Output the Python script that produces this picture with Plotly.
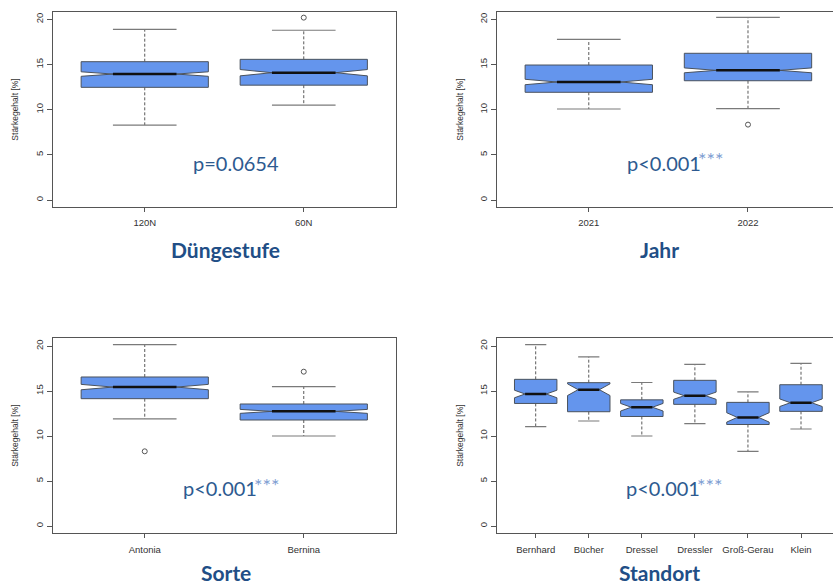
import plotly.graph_objects as go

W, H = 833, 585

# ---------------- data ----------------
duenge_cats = ["120N", "60N"]
duenge_lw = [8.3, 10.5]
duenge_q1 = [12.48, 12.72]
duenge_med = [13.95, 14.10]
duenge_q3 = [15.32, 15.58]
duenge_uw = [18.9, 18.8]
duenge_notch = [0.25, 0.35]
duenge_out_cat = ["60N"]
duenge_out_val = [20.2]
duenge_p = "p=0.0654"
duenge_stars = ""

jahr_cats = ["2021", "2022"]
jahr_lw = [10.08, 10.11]
jahr_q1 = [11.93, 13.21]
jahr_med = [13.07, 14.36]
jahr_q3 = [14.95, 16.25]
jahr_uw = [17.8, 20.22]
jahr_notch = [0.3, 0.27]
jahr_out_cat = ["2022"]
jahr_out_val = [8.35]
jahr_p = "p&lt;0.001"
jahr_stars = "***"

sorte_cats = ["Antonia", "Bernina"]
sorte_lw = [11.9, 10.0]
sorte_q1 = [14.15, 11.78]
sorte_med = [15.44, 12.74]
sorte_q3 = [16.56, 13.56]
sorte_uw = [20.15, 15.48]
sorte_notch = [0.3, 0.22]
sorte_out_cat = ["Antonia", "Bernina"]
sorte_out_val = [8.3, 17.15]
sorte_p = "p&lt;0.001"
sorte_stars = "***"

stand_cats = ["Bernhard", "Bücher", "Dressel", "Dressler", "Groß-Gerau", "Klein"]
stand_lw = [11.04, 11.67, 10.0, 11.37, 8.3, 10.78]
stand_q1 = [13.62, 12.70, 12.17, 13.52, 11.28, 12.74]
stand_med = [14.67, 15.15, 13.20, 14.48, 12.07, 13.70]
stand_q3 = [16.30, 15.93, 14.02, 16.19, 13.74, 15.70]
stand_uw = [20.15, 18.8, 15.95, 17.96, 14.9, 18.07]
stand_notch = [0.42, 0.65, 0.42, 0.4, 0.52, 0.42]
stand_out_cat = []
stand_out_val = []
stand_p = "p&lt;0.001"
stand_stars = "***"

yticks = [0, 5, 10, 15, 20]
ytitle = "Stärkegehalt [%]"

# ---------------- styling ----------------
FILL = "#6495ED"
EDGE = "#4a525d"
WHISK = "#5a5a5a"
CAP = "#7a7a7a"
TITLE_COL = "#214E86"
P_COL = "#2D5A90"
STAR_COL = "#7E9ED2"
TICK_FONT = dict(family="Liberation Sans, Arial, sans-serif", size=9.5, color="#333333")


def px_x(p):
    return p / W


def px_y(p):
    return 1 - p / H


panels = [
    dict(name="Düngestufe", cats=duenge_cats, lw=duenge_lw, q1=duenge_q1, med=duenge_med,
         q3=duenge_q3, uw=duenge_uw, notch=duenge_notch, oc=duenge_out_cat, ov=duenge_out_val,
         p=duenge_p, stars=duenge_stars,
         xdom=(52.5, 396), ydom=(12.3, 207), xr=(0.42, 2.58), yr=(-0.775, 20.79),
         mirror_y=True, ytitle_x=15, title_x=225, title_y=249, p_x=191, p_y=162.5),
    dict(name="Jahr", cats=jahr_cats, lw=jahr_lw, q1=jahr_q1, med=jahr_med,
         q3=jahr_q3, uw=jahr_uw, notch=jahr_notch, oc=jahr_out_cat, ov=jahr_out_val,
         p=jahr_p, stars=jahr_stars,
         xdom=(496.7, 833), ydom=(12.3, 207), xr=(0.4215, 2.534), yr=(-0.775, 20.79),
         mirror_y=False, ytitle_x=460, title_x=659, title_y=249, p_x=625, p_y=162.5),
    dict(name="Sorte", cats=sorte_cats, lw=sorte_lw, q1=sorte_q1, med=sorte_med,
         q3=sorte_q3, uw=sorte_uw, notch=sorte_notch, oc=sorte_out_cat, ov=sorte_out_val,
         p=sorte_p, stars=sorte_stars,
         xdom=(52.5, 396), ydom=(338.3, 533.3), xr=(0.42, 2.58), yr=(-0.81, 20.86),
         mirror_y=True, ytitle_x=15, title_x=226, title_y=572, p_x=181, p_y=487.5),
    dict(name="Standort", cats=stand_cats, lw=stand_lw, q1=stand_q1, med=stand_med,
         q3=stand_q3, uw=stand_uw, notch=stand_notch, oc=stand_out_cat, ov=stand_out_val,
         p=stand_p, stars=stand_stars,
         xdom=(496.7, 833), ydom=(338.3, 533.3), xr=(0.265, 6.603), yr=(-0.81, 20.86),
         mirror_y=False, ytitle_x=460, title_x=659, title_y=572, p_x=624, p_y=487.5),
]

fig = go.Figure()
annotations = []
BOXW = 0.8
NOTCHW = 0.25
CAPHALF = 0.2
MEDHALF = BOXW / 2 - NOTCHW * BOXW

for k, P in enumerate(panels, start=1):
    xa = "x" if k == 1 else f"x{k}"
    ya = "y" if k == 1 else f"y{k}"
    pos = list(range(1, len(P["cats"]) + 1))

    # notched boxes
    fig.add_trace(go.Box(
        x=pos, q1=P["q1"], median=P["med"], q3=P["q3"],
        lowerfence=P["q1"], upperfence=P["q3"], notchspan=P["notch"],
        notched=True, notchwidth=NOTCHW, width=BOXW, whiskerwidth=0,
        fillcolor=FILL, line=dict(color=EDGE, width=1), boxpoints=False,
        xaxis=xa, yaxis=ya, showlegend=False, hoverinfo="skip"))

    # dashed whiskers
    wx, wy = [], []
    for i, x in enumerate(pos):
        wx += [x, x, None, x, x, None]
        wy += [P["q3"][i], P["uw"][i], None, P["q1"][i], P["lw"][i], None]
    fig.add_trace(go.Scatter(x=wx, y=wy, mode="lines",
                             line=dict(color=WHISK, width=1, dash="3px,2px"),
                             xaxis=xa, yaxis=ya, showlegend=False, hoverinfo="skip"))
    # whisker caps
    cx, cy = [], []
    for i, x in enumerate(pos):
        cx += [x - CAPHALF, x + CAPHALF, None, x - CAPHALF, x + CAPHALF, None]
        cy += [P["uw"][i], P["uw"][i], None, P["lw"][i], P["lw"][i], None]
    fig.add_trace(go.Scatter(x=cx, y=cy, mode="lines",
                             line=dict(color=CAP, width=1.2),
                             xaxis=xa, yaxis=ya, showlegend=False, hoverinfo="skip"))
    # medians
    mx, my = [], []
    for i, x in enumerate(pos):
        mx += [x - MEDHALF, x + MEDHALF, None]
        my += [P["med"][i], P["med"][i], None]
    fig.add_trace(go.Scatter(x=mx, y=my, mode="lines",
                             line=dict(color="#111111", width=2.5),
                             xaxis=xa, yaxis=ya, showlegend=False, hoverinfo="skip"))
    # outliers
    if P["oc"]:
        ox = [P["cats"].index(c) + 1 for c in P["oc"]]
        fig.add_trace(go.Scatter(x=ox, y=P["ov"], mode="markers",
                                 marker=dict(symbol="circle-open", size=5,
                                             color="#555555", line=dict(width=1)),
                                 xaxis=xa, yaxis=ya, showlegend=False, hoverinfo="skip"))

    xd = (px_x(P["xdom"][0]), min(1.0, px_x(P["xdom"][1])))
    yd = (px_y(P["ydom"][1]), px_y(P["ydom"][0]))
    fig.update_layout(**{
        ("xaxis" if k == 1 else f"xaxis{k}"): dict(
            domain=xd, range=list(P["xr"]), anchor=ya,
            tickmode="array", tickvals=pos, ticktext=P["cats"],
            ticks="outside", ticklen=4, tickcolor="#555555", tickwidth=1,
            showline=True, linecolor="#555555", linewidth=1, mirror=True,
            showgrid=False, zeroline=False, tickfont=TICK_FONT,
            ticklabelstandoff=3, fixedrange=True),
        ("yaxis" if k == 1 else f"yaxis{k}"): dict(
            domain=yd, range=list(P["yr"]), anchor=xa,
            tickmode="array", tickvals=yticks, ticktext=[str(v) for v in yticks],
            tickangle=-90, ticks="outside", ticklen=5, tickcolor="#555555", tickwidth=1,
            showline=True, linecolor="#555555", linewidth=1, mirror=P["mirror_y"],
            showgrid=False, zeroline=False, tickfont=TICK_FONT, fixedrange=True),
    })

    # y-axis title
    annotations.append(dict(
        text=ytitle, xref="paper", yref="paper", textangle=-90,
        x=px_x(P["ytitle_x"]), y=px_y((P["ydom"][0] + P["ydom"][1]) / 2),
        xanchor="center", yanchor="middle", showarrow=False,
        font=dict(family="Liberation Sans, Arial, sans-serif", size=8.5, color="#333333")))
    # panel title
    annotations.append(dict(
        text=f"<b>{P['name']}</b>", xref="paper", yref="paper",
        x=px_x(P["title_x"]), y=px_y(P["title_y"]),
        xanchor="center", yanchor="middle", showarrow=False,
        font=dict(family="Lato, Open Sans, sans-serif", size=21, color=TITLE_COL)))
    # p-value text
    annotations.append(dict(
        text=P["p"], xref="paper", yref="paper",
        x=px_x(P["p_x"]), y=px_y(P["p_y"]),
        xanchor="left", yanchor="middle", showarrow=False,
        font=dict(family="Lato, Open Sans, sans-serif", size=20, color=P_COL)))
    if P["stars"]:
        annotations.append(dict(
            text=P["stars"], xref="paper", yref="paper",
            x=px_x(P["p_x"] + 71), y=px_y(P["p_y"] - 3),
            xanchor="left", yanchor="middle", showarrow=False,
            font=dict(family="Lato, Open Sans, sans-serif", size=20, color=STAR_COL)))

fig.update_layout(
    width=W, height=H, margin=dict(l=0, r=0, t=0, b=0),
    paper_bgcolor="white", plot_bgcolor="white",
    annotations=annotations, showlegend=False)

fig.write_html("out.html", config={"displayModeBar": False},
               post_script="document.body.style.margin='0px';"
                           "document.body.style.overflow='hidden';")
